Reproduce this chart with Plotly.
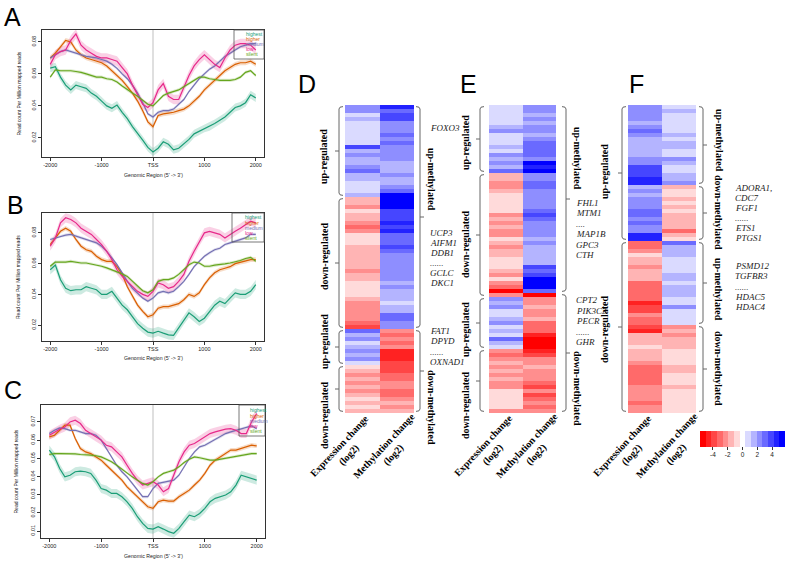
import plotly.graph_objects as go

W, H = 787, 561

# ---------------- line profile data (read count per million mapped reads) ----------------
positions = list(range(-2000, 2001, 100))
level_names = ["highest", "higher", "medium", "low", "silent"]
level_colors = ["#1b9e77", "#d95f02", "#7570b3", "#e7298a", "#66a61e"]
level_fills = ["rgba(27,158,119,0.22)", "rgba(217,95,2,0.22)", "rgba(117,112,179,0.22)",
               "rgba(231,41,138,0.22)", "rgba(102,166,30,0.22)"]

A_highest = [0.0636,0.0645,0.058,0.053,0.050,0.053,0.052,0.051,0.048,0.046,
             0.043,0.040,0.0385,0.0405,0.036,0.032,0.027,0.023,0.0185,0.014,
             0.0112,
             0.0135,0.0175,0.016,0.0125,0.0135,0.016,0.019,0.0225,0.024,0.026,
             0.027,0.029,0.031,0.033,0.036,0.039,0.040,0.042,0.047,0.045]
A_higher = [0.070,0.073,0.077,0.081,0.080,0.075,0.072,0.070,0.069,0.068,
            0.067,0.065,0.062,0.059,0.056,0.052,0.048,0.043,0.037,0.030,
            0.027,
            0.034,0.035,0.0355,0.036,0.037,0.038,0.040,0.043,0.046,0.050,
            0.053,0.056,0.059,0.062,0.064,0.066,0.067,0.067,0.068,0.066]
A_medium = [0.070,0.072,0.074,0.075,0.074,0.073,0.072,0.071,0.0705,0.070,
            0.069,0.068,0.066,0.0635,0.060,0.057,0.053,0.048,0.042,0.035,
            0.033,
            0.036,0.037,0.037,0.038,0.041,0.044,0.049,0.053,0.057,0.060,
            0.063,0.065,0.068,0.071,0.073,0.075,0.077,0.078,0.079,0.079]
A_low = [0.066,0.072,0.074,0.075,0.081,0.085,0.078,0.075,0.073,0.071,
         0.070,0.070,0.069,0.068,0.064,0.060,0.053,0.047,0.041,0.039,
         0.042,
         0.050,0.054,0.046,0.044,0.044,0.052,0.059,0.065,0.069,0.072,
         0.069,0.066,0.064,0.070,0.075,0.078,0.079,0.079,0.078,0.075]
A_silent = [0.058,0.0625,0.062,0.062,0.062,0.0615,0.061,0.060,0.059,0.058,
            0.058,0.057,0.0565,0.055,0.0525,0.050,0.048,0.046,0.0435,0.041,
            0.040,
            0.043,0.0465,0.048,0.049,0.050,0.052,0.054,0.056,0.058,0.058,
            0.057,0.0565,0.056,0.056,0.056,0.0565,0.058,0.061,0.062,0.059]

B_highest = [0.056,0.059,0.0495,0.044,0.0424,0.043,0.043,0.045,0.044,0.043,
             0.040,0.040,0.042,0.0376,0.033,0.030,0.0255,0.021,0.018,0.0155,
             0.0148,
             0.016,0.0148,0.0137,0.0133,0.018,0.0235,0.028,0.0255,0.0224,0.0245,
             0.029,0.033,0.0355,0.034,0.0376,0.041,0.040,0.040,0.042,0.0463]
B_higher = [0.0724,0.0767,0.081,0.083,0.081,0.0757,0.0713,0.069,0.068,0.0648,
            0.0626,0.0615,0.0615,0.058,0.053,0.045,0.0387,0.033,0.029,0.0255,
            0.0267,
            0.031,0.032,0.032,0.033,0.034,0.0365,0.040,0.0387,0.041,0.0463,
            0.0507,0.054,0.056,0.057,0.058,0.060,0.061,0.0615,0.0626,0.0626]
B_medium = [0.0757,0.0767,0.078,0.0785,0.079,0.078,0.0767,0.0757,0.0745,0.0735,
            0.0713,0.068,0.0637,0.0593,0.054,0.0485,0.044,0.041,0.0376,0.0355,
            0.0376,
            0.041,0.042,0.041,0.042,0.045,0.0485,0.053,0.058,0.0615,0.0648,
            0.067,0.069,0.070,0.0724,0.0735,0.0745,0.0757,0.0767,0.079,0.079]
B_low = [0.0713,0.0767,0.0865,0.0898,0.0887,0.0865,0.083,0.081,0.079,0.0757,
         0.0724,0.068,0.0626,0.056,0.0517,0.0485,0.045,0.042,0.040,0.0387,
         0.042,
         0.0474,0.0463,0.044,0.045,0.0485,0.053,0.0615,0.068,0.0745,0.080,
         0.081,0.080,0.079,0.0767,0.079,0.081,0.083,0.0855,0.0876,0.0865]
B_silent = [0.0583,0.061,0.061,0.061,0.0615,0.061,0.0604,0.0604,0.0598,0.0593,
            0.0583,0.0572,0.056,0.0546,0.0533,0.0517,0.0485,0.045,0.0424,0.041,
            0.043,
            0.0485,0.0496,0.0496,0.0507,0.053,0.056,0.0593,0.061,0.0604,0.0583,
            0.0583,0.059,0.0593,0.0598,0.0604,0.061,0.062,0.0633,0.0641,0.0615]

C_highest = [0.0545,0.0508,0.0444,0.0398,0.0407,0.0426,0.043,0.0426,0.0417,0.038,
             0.0334,0.0325,0.0307,0.0307,0.0289,0.0261,0.0225,0.0179,0.0142,0.0115,
             0.0111,
             0.0124,0.0111,0.0097,0.0088,0.0115,0.0152,0.0188,0.0179,0.0197,0.0225,
             0.0261,0.028,0.0289,0.0298,0.0316,0.0353,0.0407,0.0398,0.0389,0.038]
C_higher = [0.0618,0.0627,0.0654,0.0682,0.0682,0.0609,0.0554,0.0535,0.0526,0.0508,
            0.049,0.0462,0.0435,0.0407,0.038,0.0343,0.0316,0.0289,0.0261,0.0234,
            0.0225,
            0.0261,0.027,0.0265,0.0265,0.0289,0.0307,0.0325,0.0353,0.038,0.0417,
            0.0462,0.049,0.0508,0.0526,0.0545,0.0545,0.0554,0.0563,0.0572,0.0568]
C_medium = [0.0636,0.0654,0.0667,0.0663,0.0654,0.0654,0.0645,0.0636,0.0636,0.0627,
            0.060,0.0554,0.0508,0.0462,0.0426,0.0398,0.0362,0.0325,0.0289,0.0289,
            0.0334,
            0.0362,0.0367,0.0371,0.038,0.0407,0.0453,0.0499,0.0535,0.0563,0.0572,
            0.0587,0.0605,0.0618,0.0636,0.0645,0.0654,0.0663,0.0672,0.0678,0.0663]
C_low = [0.0627,0.0645,0.066,0.0672,0.070,0.0709,0.0691,0.0654,0.0636,0.0618,
         0.060,0.0572,0.0563,0.0535,0.0508,0.0462,0.0417,0.038,0.0353,0.0362,
         0.0371,
         0.0353,0.0316,0.0334,0.0407,0.0481,0.0535,0.0572,0.0581,0.060,0.0618,
         0.0636,0.0645,0.0654,0.066,0.0663,0.0654,0.0636,0.0636,0.070,0.0746]
C_silent = [0.0521,0.0526,0.0526,0.0526,0.0526,0.0524,0.0521,0.0521,0.0517,0.0514,
            0.0508,0.0495,0.0481,0.0462,0.044,0.0422,0.0398,0.038,0.0362,0.0353,
            0.0371,
            0.0398,0.0417,0.0426,0.0435,0.0453,0.0477,0.0495,0.0508,0.0503,0.0495,
            0.049,0.049,0.0495,0.0499,0.0503,0.0508,0.0517,0.0521,0.0526,0.0526]

band_half_width = {
    "A": [0.0025, 0.0015, 0.001, 0.003, 0.001],
    "B": [0.003, 0.0015, 0.001, 0.003, 0.001],
    "C": [0.0025, 0.0012, 0.0008, 0.0025, 0.0008],
}
x_tick_vals = [-2000, -1000, 0, 1000, 2000]
x_tick_text = ["-2000", "-1000", "TSS", "1000", "2000"]
AB_y_ticks = [0.02, 0.04, 0.06, 0.08]
C_y_ticks = [0.01, 0.02, 0.03, 0.04, 0.05, 0.06, 0.07]

# ---------------- heatmap data (log2 change, rows top -> bottom) ----------------
heat_columns = ["Expression change", "Methylation change"]
D_expr = [2.3,2.3,0.8,1.5,0.8,0.8,0.8,0.8,0.8,0.8,
          3.8,1.5,2.3,1.5,1.5,2.3,3.1,1.5,1.5,0.8,
          0.8,0.8,1.5,-1.5,-1.5,-2.3,-0.8,-1.5,-1.5,-2.3,
          -3.1,-2.3,-0.8,-0.8,-0.8,-1.5,-1.5,-1.5,-1.5,-1.5,
          -1.5,-2.3,-1.5,-1.5,-0.8,-0.8,-0.8,-0.8,-1.5,-2.3,
          -2.3,-2.3,-2.3,-2.3,-3.1,-3.8,3.1,1.5,2.3,0.8,
          1.5,2.3,1.5,2.3,0.8,-0.8,-1.5,-2.3,-1.5,-2.3,
          -1.5,-2.3,-1.5,-0.8,-1.5,-0.8,-1.5]
D_meth = [4.6,3.1,3.8,3.8,2.3,2.3,2.3,3.1,2.3,3.1,
          2.3,2.3,2.3,2.3,1.5,1.5,1.5,2.3,1.5,1.5,
          2.3,3.1,5.4,5.4,5.4,5.4,3.8,3.8,3.8,4.6,
          3.8,4.6,3.1,3.1,3.1,3.8,3.1,2.3,2.3,2.3,
          2.3,2.3,2.3,2.3,1.5,2.3,1.5,1.5,1.5,0.8,
          1.5,1.5,3.1,3.1,2.3,2.3,-2.3,-3.1,-2.3,-3.1,
          -2.3,-4.6,-4.6,-4.6,-3.8,-3.8,-3.8,-3.1,-3.1,-2.3,
          -2.3,-3.1,-3.1,-2.3,-1.5,-2.3,-1.5]
E_expr = [0.8,0.8,0.8,0.8,0.8,1.5,2.3,0.8,0.8,0.8,
          1.5,0.8,2.3,1.5,2.3,1.5,3.1,-1.5,-1.5,-2.3,
          -2.3,-1.5,-0.8,-0.8,-0.8,-0.8,-0.8,-2.3,-1.5,-2.3,
          -1.5,-2.3,-2.3,-0.8,-1.5,-2.3,-1.5,-1.5,-0.8,-0.8,
          -0.8,-1.5,-2.3,-0.8,-2.3,-3.1,-5.4,-2.3,2.3,1.5,
          2.3,0.8,0.8,1.5,2.3,0.8,1.5,0.8,3.1,1.5,
          0.8,-2.3,-3.1,-2.3,-1.5,-2.3,-1.5,-2.3,-1.5,-2.3,
          -2.3,-0.8,-0.8,-0.8,-0.8,-0.8,-2.3]
E_meth = [2.3,2.3,1.5,2.3,1.5,2.3,2.3,1.5,2.3,3.1,
          3.1,3.1,3.1,2.3,5.4,4.6,5.4,2.3,2.3,3.1,
          3.1,2.3,2.3,2.3,2.3,2.3,3.1,3.8,3.1,2.3,
          2.3,2.3,2.3,1.5,2.3,1.5,1.5,1.5,1.5,1.5,
          3.8,3.1,3.8,5.4,5.4,5.4,3.1,-5.4,-2.3,-2.3,
          -1.5,-2.3,-2.3,-1.5,-3.1,-3.1,-3.1,-4.6,-5.4,-5.4,
          -5.4,-4.6,-3.8,-2.3,-2.3,-1.5,-2.3,-2.3,-2.3,-3.1,
          -3.8,-2.3,-3.8,-3.1,-2.3,-3.1,-2.3]
F_expr = [2.3,2.3,2.3,2.3,1.5,2.3,3.1,2.3,1.5,1.5,
          1.5,1.5,1.5,2.3,2.3,3.8,3.8,3.8,4.6,4.6,
          1.5,2.3,1.5,2.3,2.3,2.3,3.1,3.1,2.3,3.1,
          2.3,2.3,4.6,4.6,-3.1,-3.1,-2.3,-0.8,-1.5,-1.5,
          -2.3,-1.5,-1.5,-1.5,-3.1,-3.1,-3.1,-3.1,-3.1,-4.6,
          -3.8,-3.8,-2.3,-3.1,-3.1,-3.8,-4.6,-1.5,-1.5,-1.5,
          -0.8,-1.5,-1.5,-1.5,-2.3,-3.1,-3.1,-3.1,-3.1,-3.1,
          -2.3,-2.3,-2.3,-2.3,-3.1,-2.3,-2.3]
F_meth = [0.8,1.5,0.8,0.8,0.8,0.8,0.8,1.5,0.8,1.5,
          1.5,0.8,0.8,2.3,1.5,0.8,0.8,1.5,1.5,2.3,
          -1.5,-0.8,-0.8,-1.5,-0.8,-1.5,-0.8,-1.5,-1.5,-1.5,
          -1.5,-3.1,-1.5,-0.8,3.1,1.5,1.5,1.5,0.8,0.8,
          0.8,0.8,1.5,1.5,0.8,1.5,1.5,1.5,0.8,0.8,
          2.3,0.8,0.8,0.8,0.8,-2.3,-1.5,-2.3,-1.5,-1.5,
          -1.5,-0.8,-0.8,-0.8,-0.8,-1.5,-1.5,-0.8,-0.8,-0.8,
          -1.5,-0.8,-0.8,-0.8,-0.8,-0.8,-0.8]

# row groups (first row, last row) for the brackets
D_left_groups = [("up-regulated", 0, 22), ("down-regulated", 23, 55), ("up-regulated", 56, 64), ("down-regulated", 65, 76)]
D_right_groups = [("up-methylated", 0, 55), ("down-methylated", 56, 76)]
E_left_groups = [("up-regulated", 0, 16), ("down-regulated", 17, 47), ("up-regulated", 48, 60), ("down-regulated", 61, 76)]
E_right_groups = [("up-methylated", 0, 46), ("down-methylated", 47, 76)]
F_left_groups = [("up-regulated", 0, 33), ("down-regulated", 34, 76)]
F_right_groups = [("up-methylated", 0, 19), ("down-methylated", 20, 33), ("up-methylated", 34, 54), ("down-methylated", 55, 76)]

D_genes_1 = ["FOXO3"]
D_genes_2 = ["UCP3", "AIFM1", "DDB1", "......", "GCLC", "DKC1"]
D_genes_3 = ["FAT1", "DPYD", "......", "OXNAD1"]
E_genes_1 = ["FHL1", "MTM1", "....", "MAP1B", "GPC3", "CTH"]
E_genes_2 = ["CPT2", "PIK3C3", "PECR", "......", "GHR"]
F_genes_1 = ["ADORA1,", "CDC7", "FGF1", "......", "ETS1", "PTGS1"]
F_genes_2 = ["PSMD12", "TGFBR3", "......", "HDAC5", "HDAC4"]

colorbar_ticks = [-4, -2, 0, 2, 4]

# ---------------- styling helpers ----------------
SANS = "Liberation Sans, Arial, Helvetica, sans-serif"
SERIF = "Liberation Serif, Times New Roman, serif"


def px_x(p):
    return p / W


def px_y(p):
    return 1 - p / H


fig = go.Figure()
shapes = []
annotations = []
layout = {}

# ---------------- line panels ----------------
line_panels = [
    dict(key="A", n="", series=[A_highest, A_higher, A_medium, A_low, A_silent],
         box=(42, 30, 264, 157), yr=[0.008, 0.0875], yt=AB_y_ticks,
         leg=(234, 30, 264, 59), leg_x=244, leg_y=[34, 39, 44, 49, 54],
         ytitle_x=19, xtitle_y=175, letter=(12, 17)),
    dict(key="B", n="2", series=[B_highest, B_higher, B_medium, B_low, B_silent],
         box=(42, 213, 264, 341), yr=[0.0097, 0.0929], yt=AB_y_ticks,
         leg=(232, 213, 264, 242), leg_x=243, leg_y=[217, 222.5, 228, 233, 238],
         ytitle_x=18, xtitle_y=358, letter=(15, 205)),
    dict(key="C", n="3", series=[C_highest, C_higher, C_medium, C_low, C_silent],
         box=(41, 405, 265, 538), yr=[0.0062, 0.0793], yt=C_y_ticks,
         leg=(239, 405, 265, 436), leg_x=248, leg_y=[410, 415.5, 421, 426, 431],
         ytitle_x=15, xtitle_y=556, letter=(13, 390)),
]

for p in line_panels:
    n = p["n"]
    xa, ya = "x" + n, "y" + n
    x0, y0, x1, y1 = p["box"]
    for i, ser in enumerate(p["series"]):
        w = band_half_width[p["key"]][i]
        upper = [v + w for v in ser]
        lower = [v - w for v in ser]
        fig.add_trace(go.Scatter(x=positions + positions[::-1], y=upper + lower[::-1],
                                 fill="toself", fillcolor=level_fills[i], line=dict(width=0),
                                 mode="lines", hoverinfo="skip", showlegend=False,
                                 xaxis=xa, yaxis=ya))
    for i, ser in enumerate(p["series"]):
        fig.add_trace(go.Scatter(x=positions, y=ser, mode="lines", name=level_names[i],
                                 line=dict(color=level_colors[i], width=1.2),
                                 showlegend=False, xaxis=xa, yaxis=ya))
    common = dict(showline=True, mirror=True, linecolor="#333", linewidth=0.7,
                  showgrid=False, zeroline=False, ticks="outside", ticklen=3,
                  tickwidth=0.6, tickcolor="#333",
                  tickfont=dict(family=SANS, size=5.5, color="#222"))
    layout["xaxis" + n] = dict(common, domain=[px_x(x0), px_x(x1)], anchor=ya,
                               range=[-2160, 2160], tickvals=x_tick_vals, ticktext=x_tick_text)
    layout["yaxis" + n] = dict(common, domain=[px_y(y1), px_y(y0)], anchor=xa,
                               range=p["yr"], tickvals=p["yt"],
                               ticktext=["%.2f" % v for v in p["yt"]], tickangle=-90)
    # TSS marker
    shapes.append(dict(type="line", xref=xa, yref=ya + " domain", x0=0, x1=0, y0=0, y1=1,
                       line=dict(color="#d4d4d4", width=1.5), layer="below"))
    # legend box
    lx0, ly0, lx1, ly1 = p["leg"]
    shapes.append(dict(type="rect", xref="paper", yref="paper", x0=px_x(lx0), x1=px_x(lx1),
                       y0=px_y(ly1), y1=px_y(ly0), line=dict(color="#555", width=0.8)))
    for i, nm in enumerate(level_names):
        annotations.append(dict(text=nm, x=px_x(p["leg_x"]), y=px_y(p["leg_y"][i]),
                                xref="paper", yref="paper", xanchor="left", yanchor="middle",
                                showarrow=False, font=dict(family=SANS, size=5, color=level_colors[i])))
    annotations.append(dict(text="Genomic Region (5' -> 3')", x=0, y=px_y(p["xtitle_y"]),
                            xref=xa, yref="paper", xanchor="center", yanchor="middle",
                            showarrow=False, font=dict(family=SANS, size=5.2, color="#222")))
    annotations.append(dict(text="Read count Per Million mapped reads", x=px_x(p["ytitle_x"]),
                            y=px_y((y0 + y1) / 2), xref="paper", yref="paper", textangle=-90,
                            xanchor="center", yanchor="middle", showarrow=False,
                            font=dict(family=SANS, size=5, color="#222")))
    annotations.append(dict(text=p["key"], x=px_x(p["letter"][0]), y=px_y(p["letter"][1]),
                            xref="paper", yref="paper", xanchor="center", yanchor="middle",
                            showarrow=False, font=dict(family=SANS, size=25, color="black")))

# ---------------- heatmaps ----------------
level_palette = ["#FF0000", "#FF2222", "#FF4646", "#FF6A6A", "#FF8E8E", "#FFB4B4", "#FFDADA",
                 "#FFFFFF",
                 "#DADAFF", "#B4B4FF", "#8E8EFF", "#6A6AFF", "#4646FF", "#2222FF", "#0000FF"]
nb = len(level_palette)
colorscale = []
for i, c in enumerate(level_palette):
    colorscale.append([i / nb, c])
    colorscale.append([(i + 1) / nb, c])

layout["coloraxis"] = dict(
    colorscale=colorscale, cmin=-5.75, cmax=5.75,
    colorbar=dict(orientation="h", x=px_x(700), xanchor="left", y=px_y(431), yanchor="top",
                  len=85, lenmode="pixels", thickness=16, thicknessmode="pixels",
                  xpad=0, ypad=0, outlinewidth=0, tickvals=colorbar_ticks,
                  ticktext=[str(v) for v in colorbar_ticks], ticks="outside", ticklen=3,
                  tickwidth=0.6, tickcolor="#333",
                  tickfont=dict(family=SANS, size=6.5, color="#222")))

heat_panels = [
    dict(key="D", n="4", expr=D_expr, meth=D_meth, xs=(345, 414), letter=(307, 84),
         left=D_left_groups, right=D_right_groups,
         lbx=(339, 343, 335), rbx=(420, 416, 424),
         left_lab_x=324, left_lab_y=[157, 257, 342, 416],
         right_lab_x=432, right_lab_y=[179, 407],
         genes=[(D_genes_1, 128, 10), (D_genes_2, 233, 10), (D_genes_3, 331, 10.4)], gene_x=428),
    dict(key="E", n="5", expr=E_expr, meth=E_meth, xs=(489, 556), letter=(468, 84),
         left=E_left_groups, right=E_right_groups,
         lbx=(480, 484, 476), rbx=(566, 562, 570),
         left_lab_x=465, left_lab_y=[143, 245, 330, 406],
         right_lab_x=578, right_lab_y=[158, 388],
         genes=[(E_genes_1, 203, 10.4), (E_genes_2, 300, 10.5)], gene_x=574),
    dict(key="F", n="6", expr=F_expr, meth=F_meth, xs=(628, 696), letter=(636, 84),
         left=F_left_groups, right=F_right_groups,
         lbx=(622, 626, 618), rbx=(703, 699, 707),
         left_lab_x=604, left_lab_y=[172, 330],
         right_lab_x=719, right_lab_y=[140, 212, 289, 368],
         genes=[(F_genes_1, 188, 10), (F_genes_2, 266, 10.3)], gene_x=733),
]

HEAT_TOP, HEAT_BOTTOM = 105, 413
for hp in heat_panels:
    n = hp["n"]
    xa, ya = "x" + n, "y" + n
    nrows = len(hp["expr"])
    z = [[e, m] for e, m in zip(hp["expr"], hp["meth"])]
    fig.add_trace(go.Heatmap(z=z, x=[0, 1], y=list(range(nrows)), coloraxis="coloraxis",
                             xaxis=xa, yaxis=ya, hoverinfo="skip"))
    hx0, hx1 = hp["xs"]
    layout["xaxis" + n] = dict(domain=[px_x(hx0), px_x(hx1)], anchor=ya, range=[-0.5, 1.5],
                               visible=False, fixedrange=True)
    layout["yaxis" + n] = dict(domain=[px_y(HEAT_BOTTOM), px_y(HEAT_TOP)], anchor=xa,
                               range=[nrows - 0.5, -0.5], visible=False, fixedrange=True)

    def bracket(x_line, x_hook, x_tick, r0, r1):
        yt = r0 - 0.5 + 0.4
        yb = r1 + 0.5 - 0.4
        ym = (r0 + r1) / 2
        c = 0.6
        xl, xh, xt = px_x(x_line), px_x(x_hook), px_x(x_tick)
        path = (f"M {xh},{yt} Q {xl},{yt} {xl},{yt + c} L {xl},{yb - c} "
                f"Q {xl},{yb} {xh},{yb} M {xl},{ym} L {xt},{ym}")
        return dict(type="path", xref="paper", yref=ya, path=path,
                    line=dict(color="#666", width=1))

    for (lab, r0, r1), ly in zip(hp["left"], hp["left_lab_y"]):
        shapes.append(bracket(*hp["lbx"], r0, r1))
        annotations.append(dict(text=lab, x=px_x(hp["left_lab_x"]), y=px_y(ly), xref="paper",
                                yref="paper", textangle=-90, xanchor="center", yanchor="middle",
                                showarrow=False,
                                font=dict(family=SERIF, size=10, color="black", weight="bold")))
    for (lab, r0, r1), ly in zip(hp["right"], hp["right_lab_y"]):
        shapes.append(bracket(*hp["rbx"], r0, r1))
        annotations.append(dict(text=lab, x=px_x(hp["right_lab_x"]), y=px_y(ly), xref="paper",
                                yref="paper", textangle=90, xanchor="center", yanchor="middle",
                                showarrow=False,
                                font=dict(family=SERIF, size=10, color="black", weight="bold")))
    for names, start, step in hp["genes"]:
        for k, g in enumerate(names):
            annotations.append(dict(text="<i>" + g + "</i>", x=px_x(hp["gene_x"]),
                                    y=px_y(start + k * step), xref="paper", yref="paper",
                                    xanchor="left", yanchor="middle", showarrow=False,
                                    font=dict(family=SERIF, size=9, color="#222")))
    # column labels
    col_centres = [hx0 + (hx1 - hx0) * 0.25 - 18, hx0 + (hx1 - hx0) * 0.75 - 8]
    for cname, cx in zip(heat_columns, col_centres):
        annotations.append(dict(text=cname + "<br>(log2)", x=px_x(cx), y=px_y(450),
                                xref="paper", yref="paper", textangle=-47, align="center",
                                xanchor="center", yanchor="middle", showarrow=False,
                                font=dict(family=SERIF, size=10, color="black", weight="bold")))
    annotations.append(dict(text=hp["key"], x=px_x(hp["letter"][0]), y=px_y(hp["letter"][1]),
                            xref="paper", yref="paper", xanchor="center", yanchor="middle",
                            showarrow=False, font=dict(family=SANS, size=25, color="black")))

fig.update_layout(**layout)
fig.update_layout(width=W, height=H, margin=dict(l=0, r=0, t=0, b=0),
                  paper_bgcolor="white", plot_bgcolor="white", showlegend=False,
                  shapes=shapes, annotations=annotations)
fig.write_html("out.html", config={"displayModeBar": False},
               post_script="document.body.style.margin='0px';document.body.style.overflow='hidden';")
